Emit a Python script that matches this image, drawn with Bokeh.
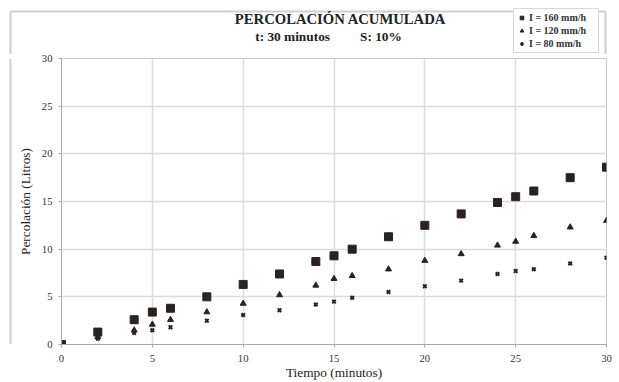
from bokeh.plotting import figure
from bokeh.models import Range1d, Legend, LegendItem, FixedTicker, Label
from bokeh.layouts import column, row
from bokeh.embed import file_html
from bokeh.resources import INLINE

tiempo = [0, 2, 4, 5, 6, 8, 10, 12, 14, 15, 16, 18, 20, 22, 24, 25, 26, 28, 30]
perc_160 = [0, 1.3, 2.6, 3.4, 3.8, 5.0, 6.3, 7.4, 8.7, 9.3, 10.0, 11.3, 12.5, 13.7, 14.9, 15.5, 16.1, 17.5, 18.6]
perc_120 = [0, 0.8, 1.5, 2.1, 2.6, 3.4, 4.3, 5.2, 6.2, 6.9, 7.2, 7.9, 8.8, 9.5, 10.4, 10.8, 11.4, 12.3, 13.0]
perc_80 = [0, 0.6, 1.2, 1.5, 1.8, 2.5, 3.1, 3.6, 4.2, 4.5, 4.9, 5.5, 6.1, 6.7, 7.4, 7.7, 7.9, 8.5, 9.1]
x_ticks = [0, 5, 10, 15, 20, 25, 30]
y_ticks = [0, 5, 10, 15, 20, 25, 30]
labels = ["I = 160 mm/h", "I = 120 mm/h", "I = 80 mm/h"]
titulo = "PERCOLACIÓN ACUMULADA"
subtitulo = "t: 30 minutos" + "\u00a0" * 9 + "S: 10%"

FONT = "Liberation Serif"
COL = "#2a2222"
BORDER = "#cfcfcf"
HEAD_H = 54


def blank(width, height, xr, yr):
    f = figure(width=width, height=height, output_backend="svg", toolbar_location=None,
               x_range=xr, y_range=yr, x_axis_location=None, y_axis_location=None,
               min_border=0, min_border_left=0, min_border_right=0,
               min_border_top=0, min_border_bottom=0)
    f.outline_line_color = None
    f.xgrid.visible = False
    f.ygrid.visible = False
    f.background_fill_color = "white"
    f.border_fill_color = "white"
    return f


# ---- header: title, subtitle, legend, chart-area border ----
head = blank(619, HEAD_H, Range1d(0, 619), Range1d(HEAD_H, 0))
head.segment(x0=[10, 10, 605], y0=[11, 11, 11], x1=[605, 10, 605], y1=[11, HEAD_H, HEAD_H],
             line_color=BORDER, line_width=2)
head.add_layout(Label(x=340, y=18, text=titulo, text_font=FONT, text_font_size="11pt",
                      text_font_style="bold", text_align="center", text_baseline="middle",
                      text_color="#222222"))
head.add_layout(Label(x=328, y=36, text=subtitulo, text_font=FONT, text_font_size="10pt",
                      text_font_style="bold", text_align="center", text_baseline="middle",
                      text_color="#222222"))
# hidden copies of the series, used only to draw the legend swatches
g1 = head.scatter(tiempo, perc_160, marker="square", size=7, fill_color=COL, line_color=COL, visible=False)
g2 = head.scatter(tiempo, perc_120, marker="triangle", size=7, fill_color=COL, line_color=COL, visible=False)
g3 = head.scatter(tiempo, perc_80, marker="x", size=6, line_color=COL, line_width=2, visible=False)
legend = Legend(items=[LegendItem(label=labels[0], renderers=[g1]),
                       LegendItem(label=labels[1], renderers=[g2]),
                       LegendItem(label=labels[2], renderers=[g3])],
                location=(513, 1))
legend.label_text_font = FONT
legend.label_text_font_size = "7.5pt"
legend.label_text_font_style = "bold"
legend.label_text_color = "#333333"
legend.glyph_width = 9
legend.glyph_height = 11
legend.label_height = 11
legend.label_width = 66
legend.spacing = 2
legend.padding = 3
legend.margin = 0
legend.label_standoff = 3
legend.border_line_color = "#b0b0b0"
legend.background_fill_color = "white"
legend.background_fill_alpha = 1
head.add_layout(legend, "center")

# ---- left strip: chart-area left border ----
body_h = 382 - HEAD_H
strip = blank(12, body_h, Range1d(0, 12), Range1d(0, body_h))
strip.segment(x0=[10], y0=[0], x1=[10], y1=[body_h], line_color=BORDER, line_width=2)

# ---- main plot ----
p = figure(width=607, height=body_h, output_backend="svg", toolbar_location=None,
           x_range=Range1d(0, 30), y_range=Range1d(0, 30),
           min_border_left=49, min_border_right=13, min_border_top=4, min_border_bottom=34)
p.outline_line_color = "#c8c8c8"
p.background_fill_color = "white"
p.border_fill_color = "white"

for ax in (p.xaxis[0], p.yaxis[0]):
    ax.major_label_text_font = FONT
    ax.major_label_text_font_size = "8pt"
    ax.major_label_text_color = "#333333"
    ax.axis_label_text_font = FONT
    ax.axis_label_text_font_size = "10pt"
    ax.axis_label_text_font_style = "normal"
    ax.axis_label_text_color = "#222222"
    ax.axis_line_color = "#aaaaaa"
    ax.major_tick_line_color = "#aaaaaa"
    ax.major_tick_in = 0
    ax.major_tick_out = 3
    ax.minor_tick_line_color = None

p.xaxis.ticker = FixedTicker(ticks=x_ticks)
p.yaxis.ticker = FixedTicker(ticks=y_ticks)
p.xaxis.axis_label = "Tiempo (minutos)"
p.yaxis.axis_label = "Percolación (Litros)"
p.xaxis.axis_label_standoff = 0
p.yaxis.axis_label_standoff = 6
p.xaxis.major_label_standoff = 7
p.yaxis.major_label_standoff = 6
p.xgrid.grid_line_color = "#dcdcdc"
p.ygrid.grid_line_color = "#dcdcdc"
p.xgrid.grid_line_width = 1.5
p.ygrid.grid_line_width = 1.5

p.scatter(tiempo, perc_160, marker="square", size=8, fill_color=COL, line_color=COL)
p.scatter(tiempo, perc_120, marker="triangle", size=6, fill_color=COL, line_color=COL)
p.scatter(tiempo, perc_80, marker="x", size=5, line_color=COL, line_width=2)

layout = column(head, row(strip, p, spacing=0), spacing=0)
open("out.html", "w").write(file_html(layout, INLINE))
